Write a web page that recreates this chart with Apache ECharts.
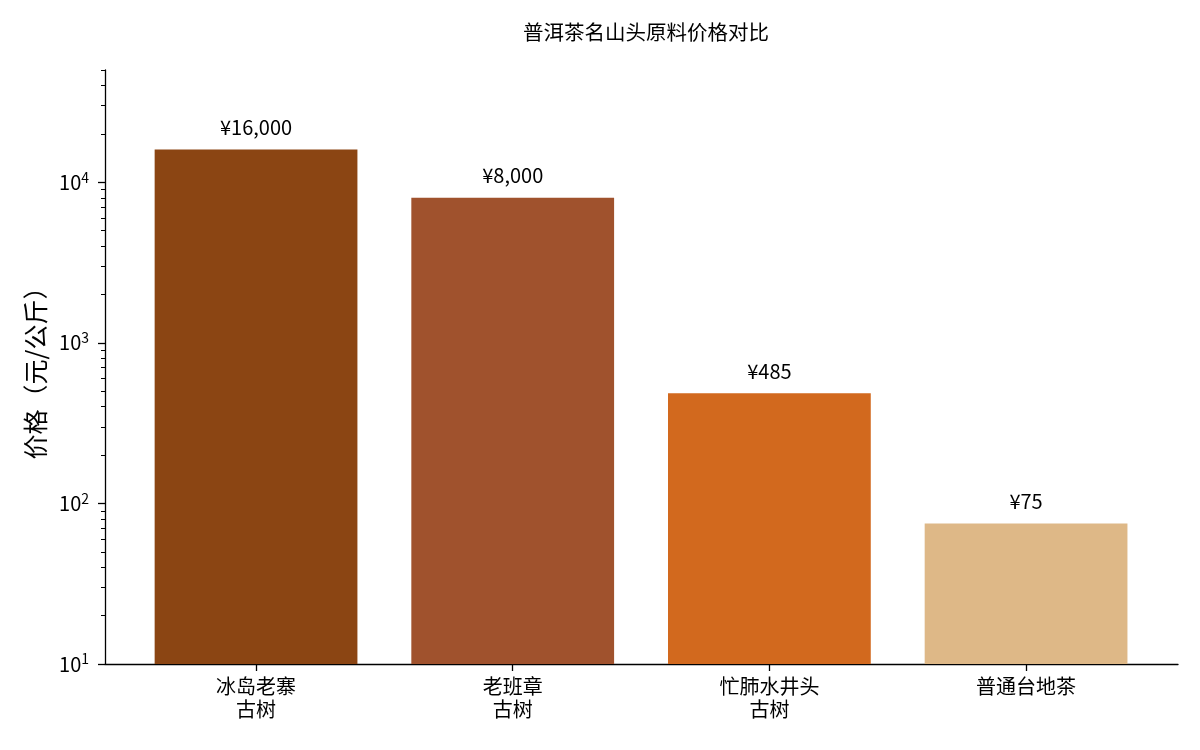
<!DOCTYPE html>
<html lang="zh">
<head>
<meta charset="UTF-8">
<title>普洱茶名山头原料价格对比</title>
<style>
  html, body { margin: 0; padding: 0; background: #fff; }
  #chart { width: 1200px; height: 750px; }
</style>
</head>
<body>
<div id="chart"></div>
<script src="https://cdn.jsdelivr.net/npm/echarts@6/dist/echarts.min.js"></script>
<script>
  // data
  var categories = ['冰岛老寨\n古树', '老班章\n古树', '忙肺水井头\n古树', '普通台地茶'];
  var prices = [16000, 8000, 485, 75];
  var barColors = ['#8B4513', '#A0522D', '#D2691E', '#DEB887'];
  var majorTicks = [10, 100, 1000, 10000];
  var minorTicks = [20, 30, 40, 50, 60, 70, 80, 90,
                    200, 300, 400, 500, 600, 700, 800, 900,
                    2000, 3000, 4000, 5000, 6000, 7000, 8000, 9000,
                    20000, 30000, 40000, 50000];

  var FONT = 'Noto Sans CJK SC';
  var chart = echarts.init(document.getElementById('chart'));

  var option = {
    backgroundColor: '#ffffff',
    animation: false,
    textStyle: { fontFamily: FONT, color: '#000' },
    title: {
      text: '普洱茶名山头原料价格对比',
      left: 641,
      top: 17,
      textAlign: 'center',
      textStyle: { fontFamily: FONT, fontSize: 20.5, fontWeight: 'normal', color: '#000' }
    },
    grid: [
      // full plot frame (axes lines, y ticks)
      { left: 105, right: 22, top: 70, bottom: 86 },
      // bar area, inset like matplotlib's x margins
      { left: 127.7, right: 45.6, top: 70, bottom: 86 }
    ],
    xAxis: [
      {
        type: 'value', gridIndex: 0, min: 0, max: 1,
        axisLine: { show: true, lineStyle: { color: '#000', width: 1.3 } },
        axisTick: { show: false }, axisLabel: { show: false }, splitLine: { show: false }
      },
      {
        type: 'category', gridIndex: 1, data: categories,
        axisLine: { show: false },
        axisTick: { show: true, alignWithLabel: true, length: 7, lineStyle: { color: '#000', width: 1.3 } },
        axisLabel: { fontFamily: FONT, fontSize: 20, color: '#000', margin: 11, lineHeight: 23 },
        splitLine: { show: false }
      }
    ],
    yAxis: [
      {
        type: 'log', logBase: 10, gridIndex: 0, min: 10, max: 50000,
        name: '价格（元/公斤）',
        nameLocation: 'middle',
        nameGap: 57,
        nameTextStyle: { fontFamily: FONT, fontSize: 25, color: '#000' },
        axisLine: { show: true, lineStyle: { color: '#000', width: 1.3 } },
        axisTick: { show: true, length: 7, customValues: majorTicks, lineStyle: { color: '#000', width: 1.3 } },
        axisLabel: {
          customValues: majorTicks,
          margin: 16,
          fontFamily: FONT, fontSize: 20, color: '#000',
          formatter: function (v) {
            return '10{sup|' + Math.round(Math.log10(v)) + '}';
          },
          rich: {
            sup: { fontFamily: FONT, fontSize: 14, color: '#000', verticalAlign: 'top', padding: [0, 0, 10, 0] }
          }
        },
        splitLine: { show: false }
      },
      {
        // minor ticks only
        type: 'log', logBase: 10, gridIndex: 0, min: 10, max: 50000,
        position: 'left', offset: 0,
        axisLine: { show: false },
        axisTick: { show: true, length: 4, customValues: minorTicks, lineStyle: { color: '#000', width: 1 } },
        axisLabel: { show: false },
        splitLine: { show: false }
      },
      {
        type: 'log', logBase: 10, gridIndex: 1, min: 10, max: 50000, show: false,
        splitLine: { show: false }
      }
    ],
    series: [
      {
        type: 'bar',
        xAxisIndex: 1,
        yAxisIndex: 2,
        barWidth: '79%',
        data: prices.map(function (v, i) {
          return { value: v, itemStyle: { color: barColors[i] } };
        }),
        label: {
          show: true,
          position: 'top',
          distance: 12,
          fontFamily: FONT,
          fontSize: 20,
          color: '#000',
          formatter: function (p) {
            return '¥' + p.value.toLocaleString('en-US');
          }
        }
      }
    ]
  };

  chart.setOption(option);
</script>
</body>
</html>
